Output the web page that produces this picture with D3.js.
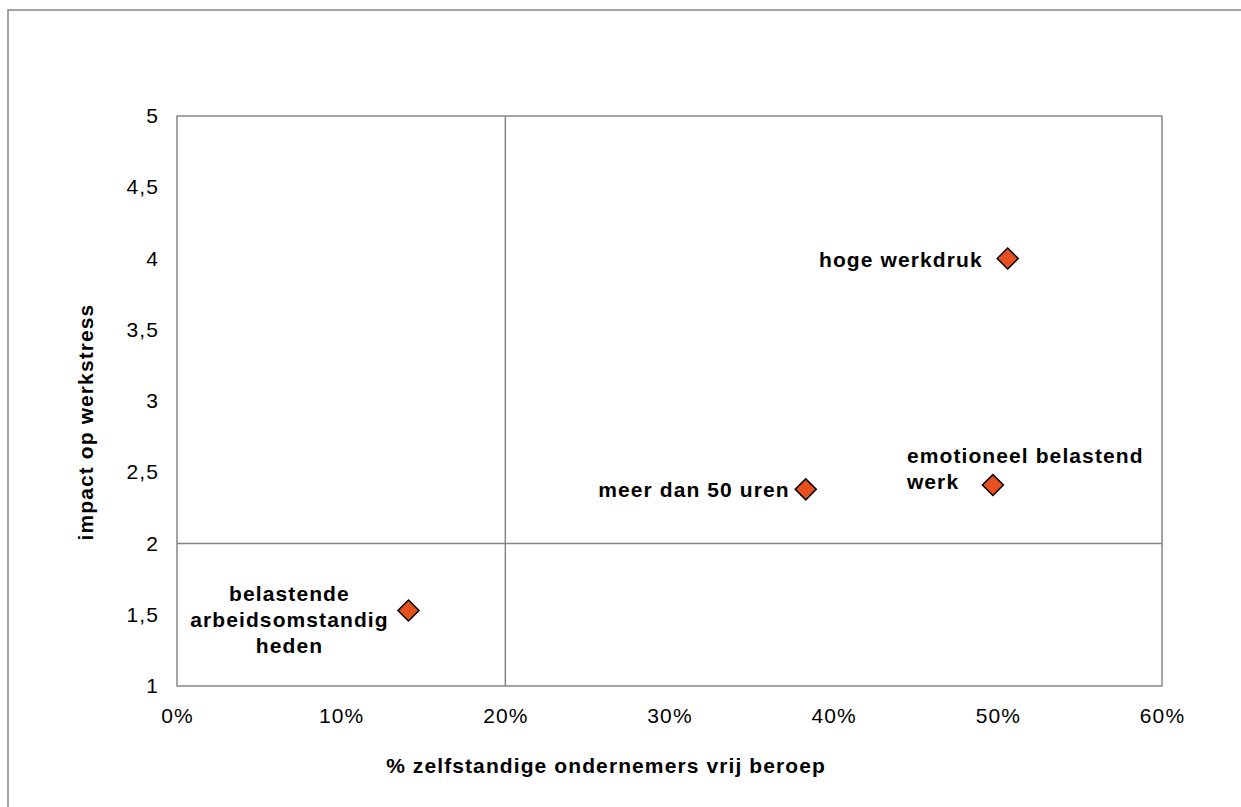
<!DOCTYPE html>
<html>
<head>
<meta charset="utf-8">
<script src="https://cdn.jsdelivr.net/npm/d3@7"></script>
<style>
  body { margin: 0; background: #fff; }
  svg { display: block; font-family: "Liberation Sans", Arial, sans-serif; }
  text { letter-spacing: 1.1px; }
</style>
</head>
<body>
<svg id="chart" width="1241" height="807"></svg>
<script>
// data
let labels = [
  ["hoge werkdruk"],
  ["emotioneel belastend", "werk"],
  ["meer dan 50 uren"],
  ["belastende", "arbeidsomstandig", "heden"]
];
let xValues = [0.506, 0.497, 0.383, 0.141];
let yValues = [4.0, 2.41, 2.38, 1.53];
let labelAnchor = ["end", "start", "end", "middle"];
let xTicks = [0, 0.1, 0.2, 0.3, 0.4, 0.5, 0.6];
let yTicks = [1, 1.5, 2, 2.5, 3, 3.5, 4, 4.5, 5];
let quadX = 0.2;
let quadY = 2;

let svg = d3.select("#chart");
let plotLeft = 177, plotRight = 1162, plotTop = 116, plotBottom = 686;
let fontSize = 21;

// outer frame (runs off the right and bottom edges)
svg.append("rect")
  .attr("x", 8).attr("y", 10)
  .attr("width", 1300).attr("height", 900)
  .attr("fill", "none")
  .attr("stroke", "#868686")
  .attr("stroke-width", 1.5);

let xScale = d3.scaleLinear().domain([0, 0.6]).range([plotLeft, plotRight]);
let yScale = d3.scaleLinear().domain([1, 5]).range([plotBottom, plotTop]);

// plot area border
svg.append("rect")
  .attr("x", plotLeft).attr("y", plotTop)
  .attr("width", plotRight - plotLeft).attr("height", plotBottom - plotTop)
  .attr("fill", "none")
  .attr("stroke", "#868686")
  .attr("stroke-width", 1.5);

// quadrant lines
svg.append("line")
  .attr("x1", xScale(quadX)).attr("x2", xScale(quadX))
  .attr("y1", plotTop).attr("y2", plotBottom)
  .attr("stroke", "#868686").attr("stroke-width", 1.5);
svg.append("line")
  .attr("x1", plotLeft).attr("x2", plotRight)
  .attr("y1", yScale(quadY)).attr("y2", yScale(quadY))
  .attr("stroke", "#868686").attr("stroke-width", 1.5);

// axes (labels only, no tick marks)
let fmtPct = d => Math.round(d * 100) + "%";
let fmtY = d => String(d).replace(".", ",");

let xAxis = d3.axisBottom(xScale).tickValues(xTicks).tickFormat(fmtPct).tickSize(0).tickPadding(22);
svg.append("g")
  .attr("transform", "translate(0," + plotBottom + ")")
  .call(xAxis)
  .call(g => g.select(".domain").remove())
  .selectAll("text")
  .attr("font-size", fontSize)
  .attr("font-family", "Liberation Sans, Arial, sans-serif")
  .attr("fill", "#000");

let yAxis = d3.axisLeft(yScale).tickValues(yTicks).tickFormat(fmtY).tickSize(0).tickPadding(18);
svg.append("g")
  .attr("transform", "translate(" + plotLeft + ",0)")
  .call(yAxis)
  .call(g => g.select(".domain").remove())
  .selectAll("text")
  .attr("font-size", fontSize)
  .attr("font-family", "Liberation Sans, Arial, sans-serif")
  .attr("fill", "#000");

// axis titles
svg.append("text")
  .attr("x", 606).attr("y", 773)
  .attr("text-anchor", "middle")
  .attr("font-size", fontSize).attr("font-weight", "bold")
  .text("% zelfstandige ondernemers vrij beroep");

svg.append("text")
  .attr("transform", "translate(93,422) rotate(-90)")
  .attr("text-anchor", "middle")
  .attr("font-size", fontSize).attr("font-weight", "bold")
  .text("impact op werkstress");

// points
let points = xValues.map((x, i) => ({ x: x, y: yValues[i], label: labels[i], anchor: labelAnchor[i] }));

let diamond = d3.symbol().type(d3.symbolSquare).size(220);
svg.append("g").selectAll("path")
  .data(points)
  .enter().append("path")
  .attr("d", diamond)
  .attr("transform", d => "translate(" + xScale(d.x) + "," + yScale(d.y) + ") rotate(45)")
  .attr("fill", "#E8501E")
  .attr("stroke", "#000")
  .attr("stroke-width", 1.5);

// labels, placed next to the marker
let labelOffset = [[-25, 8], [-86, -22], [-16, 8], [-119, -9]];
let labelG = svg.append("g");
points.forEach((d, i) => {
  let t = labelG.append("text")
    .attr("x", xScale(d.x) + labelOffset[i][0])
    .attr("y", yScale(d.y) + labelOffset[i][1])
    .attr("text-anchor", d.anchor)
    .attr("font-size", fontSize).attr("font-weight", "bold");
  d.label.forEach((line, j) => {
    t.append("tspan")
      .attr("x", xScale(d.x) + labelOffset[i][0])
      .attr("dy", j === 0 ? 0 : 26)
      .text(line);
  });
});
</script>
</body>
</html>
